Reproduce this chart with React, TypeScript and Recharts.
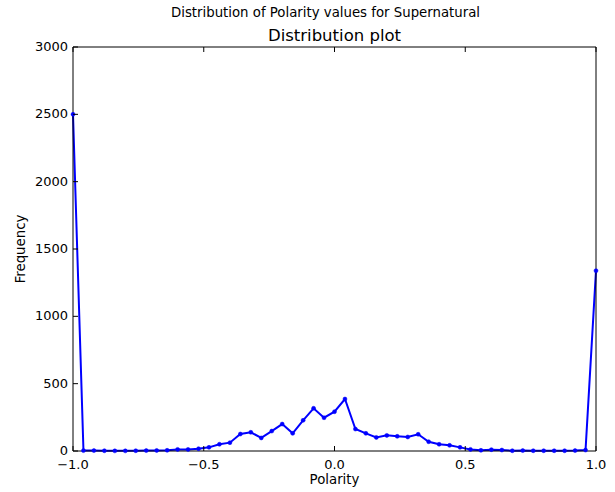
import { LineChart, Line, XAxis, YAxis } from 'recharts'

// histogram of polarity, bins every 0.04 from -1 to 1
const polarity = [
    -1.0, -0.96, -0.92, -0.88, -0.84, -0.8, -0.76, -0.72, -0.68, -0.64,
    -0.6, -0.56, -0.52, -0.48, -0.44, -0.4, -0.36, -0.32, -0.28, -0.24,
    -0.2, -0.16, -0.12, -0.08, -0.04, 0.0, 0.04, 0.08, 0.12, 0.16,
    0.2, 0.24, 0.28, 0.32, 0.36, 0.4, 0.44, 0.48, 0.52, 0.56,
    0.6, 0.64, 0.68, 0.72, 0.76, 0.8, 0.84, 0.88, 0.92, 0.96, 1.0,
]
const frequency = [
    2500, 3, 3, 2, 1, 1, 2, 3, 4, 5,
    12, 12, 17, 27, 50, 62, 126, 139, 97, 148,
    200, 131, 228, 317, 247, 292, 386, 163, 131, 101,
    116, 109, 104, 124, 69, 50, 42, 27, 12, 5,
    10, 7, 2, 3, 2, 2, 2, 2, 3, 7, 1339,
]
const xTicks = [-1, -0.5, 0, 0.5, 1]
const yTicks = [0, 500, 1000, 1500, 2000, 2500, 3000]

const FONT = '"DejaVu Sans", sans-serif'
const PLOT = { left: 73, right: 596, top: 47, bottom: 451 }
const TICK = 5

const fmtX = (v: number) => v.toFixed(1).replace('-', '\u2212')

export default function App() {
    const data = polarity.map((p, i) => ({ polarity: p, count: frequency[i] }))

    const bottomTick = (props: any) => {
        const { x, payload } = props
        return (
            <g>
                <line x1={x} x2={x} y1={PLOT.bottom} y2={PLOT.bottom - TICK} stroke="#000" />
                <text x={x} y={PLOT.bottom + 18} textAnchor="middle" fontSize={13} fontFamily={FONT} fill="#000">
                    {fmtX(payload.value)}
                </text>
            </g>
        )
    }
    const topTick = (props: any) => (
        <line x1={props.x} x2={props.x} y1={PLOT.top} y2={PLOT.top + TICK} stroke="#000" />
    )
    const leftTick = (props: any) => {
        const { y, payload } = props
        return (
            <g>
                <line x1={PLOT.left} x2={PLOT.left + TICK} y1={y} y2={y} stroke="#000" />
                <text x={PLOT.left - 5} y={y + 4} textAnchor="end" fontSize={13} fontFamily={FONT} fill="#000">
                    {payload.value}
                </text>
            </g>
        )
    }
    const rightTick = (props: any) => (
        <line x1={PLOT.right} x2={PLOT.right - TICK} y1={props.y} y2={props.y} stroke="#000" />
    )

    return (
        <div style={{ position: 'absolute', left: 0, top: 0, width: 615, height: 492, background: '#fff', fontFamily: FONT }}>
            <div style={{ position: 'absolute', top: 5, width: 615, left: 18, textAlign: 'center', fontSize: 13.3 }}>
                Distribution of Polarity values for Supernatural
            </div>
            <div style={{ position: 'absolute', top: 26, left: PLOT.left, width: PLOT.right - PLOT.left, textAlign: 'center', fontSize: 16.5 }}>
                Distribution plot
            </div>
            <div style={{ position: 'absolute', top: 472, left: PLOT.left, width: PLOT.right - PLOT.left, textAlign: 'center', fontSize: 13.3 }}>
                Polarity
            </div>
            <div
                style={{
                    position: 'absolute', left: 20, top: 249, fontSize: 13.3,
                    transform: 'translate(-50%, -50%) rotate(-90deg)', whiteSpace: 'nowrap',
                }}
            >
                Frequency
            </div>
            <div style={{ position: 'absolute', left: 0, top: 0 }}>
                <LineChart
                    width={615}
                    height={492}
                    data={data}
                    margin={{ top: PLOT.top - 1, right: 615 - PLOT.right - 1, bottom: 492 - PLOT.bottom - 1, left: PLOT.left - 1 }}
                >
                    <XAxis
                        xAxisId="b"
                        dataKey="polarity"
                        type="number"
                        domain={[-1, 1]}
                        ticks={xTicks}
                        height={1}
                        tickLine={false}
                        axisLine={{ stroke: '#000' }}
                        tick={bottomTick}
                        interval={0}
                    />
                    <XAxis
                        xAxisId="t"
                        orientation="top"
                        dataKey="polarity"
                        type="number"
                        domain={[-1, 1]}
                        ticks={xTicks}
                        height={1}
                        tickLine={false}
                        axisLine={{ stroke: '#000' }}
                        tick={topTick}
                        interval={0}
                    />
                    <YAxis
                        yAxisId="l"
                        type="number"
                        domain={[0, 3000]}
                        ticks={yTicks}
                        width={1}
                        tickLine={false}
                        axisLine={{ stroke: '#000' }}
                        tick={leftTick}
                        interval={0}
                    />
                    <YAxis
                        yAxisId="r"
                        orientation="right"
                        type="number"
                        domain={[0, 3000]}
                        ticks={yTicks}
                        width={1}
                        tickLine={false}
                        axisLine={{ stroke: '#000' }}
                        tick={rightTick}
                        interval={0}
                    />
                    <Line
                        xAxisId="b"
                        yAxisId="l"
                        dataKey="count"
                        type="linear"
                        stroke="#0000ff"
                        strokeWidth={2}
                        dot={{ r: 2, fill: '#0000ff', stroke: '#0000ff', strokeWidth: 0.5 }}
                        isAnimationActive={false}
                    />
                </LineChart>
            </div>
        </div>
    )
}
